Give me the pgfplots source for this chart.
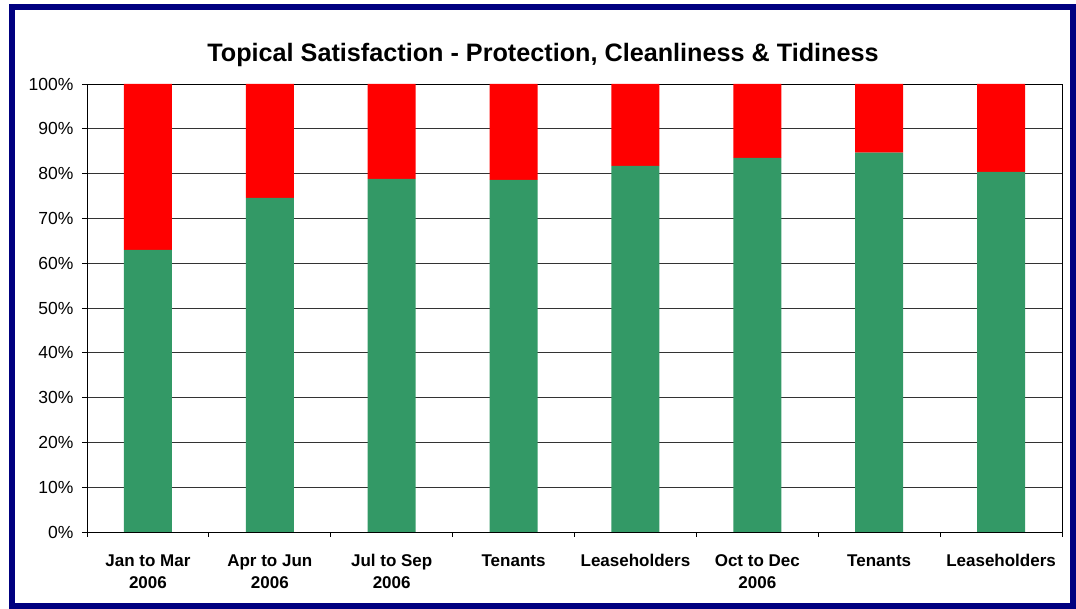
\documentclass[border=0pt]{standalone}
\usepackage{fontspec}
\setmainfont{Liberation Sans}
\usepackage{pgfplots}
\pgfplotsset{compat=1.18}
\definecolor{barGreen}{RGB}{51,153,102}
\definecolor{frameNavy}{RGB}{0,0,128}

\begin{document}
\begin{tikzpicture}[x=1pt,y=1pt]
\useasboundingbox (0,0) rectangle (1076,609);
\draw[frameNavy, line width=6pt] (12,2.5) rectangle (1073,602);
\node[font=\bfseries\fontsize{25.2}{30}\selectfont, anchor=base] at (543,547)
  {Topical Satisfaction - Protection, Cleanliness \& Tidiness};
\begin{axis}[
    at={(87pt,77pt)}, anchor=south west,
    scale only axis,
    width=975pt, height=448pt,
    ybar stacked, bar width=48pt,
    xmin=-0.5, xmax=7.5,
    ymin=0, ymax=100,
    ytick={0,10,...,100},
    yticklabel={\pgfmathprintnumber{\tick}\%},
    /pgf/number format/assume math mode=true,
    yticklabel style={font=\fontsize{17.5}{19}\selectfont, xshift=-5pt},
    xtick={0,...,7},
    xticklabels={Jan to Mar\\2006, Apr to Jun\\2006, Jul to Sep\\2006, Tenants,
                 Leaseholders, Oct to Dec\\2006, Tenants, Leaseholders},
    xticklabel style={align=center, font=\bfseries\fontsize{17}{22}\selectfont, anchor=north, yshift=-14pt},
    minor xtick={-0.5,0.5,...,7.5},
    major x tick style={draw=none},
    tick align=outside,
    tick pos=left,
    major tick length=5pt, minor tick length=5pt,
    tick style={black, line width=0.8pt},
    ymajorgrids,
    major grid style={black!80, line width=0.8pt},
    axis line style={black, line width=0.8pt},
]
\addplot[fill=barGreen, draw=none] coordinates {
    (0,63.0) (1,74.6) (2,78.8) (3,78.6) (4,81.7) (5,83.5) (6,84.7) (7,80.4)
};
\addplot[fill=red, draw=none] coordinates {
    (0,37.0) (1,25.4) (2,21.2) (3,21.4) (4,18.3) (5,16.5) (6,15.3) (7,19.6)
};
\end{axis}
\end{tikzpicture}
\end{document}
